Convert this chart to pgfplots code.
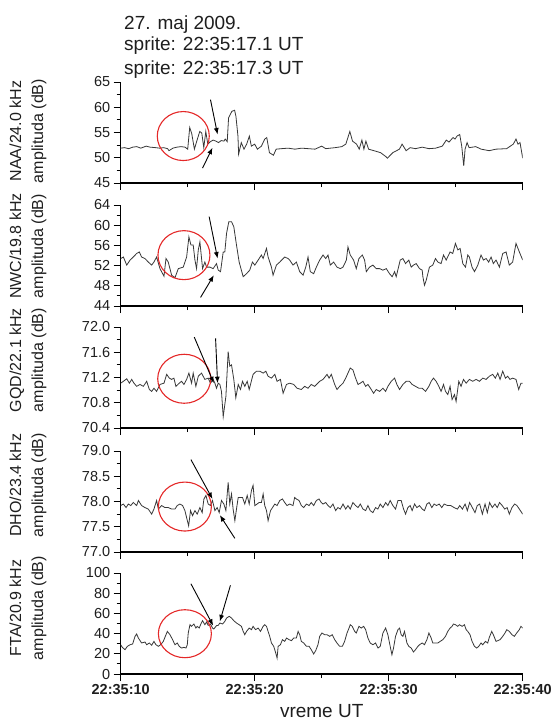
\documentclass[border=0pt]{standalone}
\usepackage{pgfplots}
\pgfplotsset{compat=1.18}
\usepackage{fontspec}
\setmainfont{Liberation Sans}
\usetikzlibrary{arrows.meta}
\definecolor{trace}{RGB}{55,55,55}
\definecolor{circ}{RGB}{228,40,40}
\definecolor{txt}{RGB}{30,30,30}
\tikzset{
  ar/.style={black, line width=0.9pt, -{Latex[length=6.5pt,width=5pt]}},
  ci/.style={circ, line width=1.1pt},
}
\pgfplotsset{
  panel/.style={
    scale only axis, width=402pt, height=101pt,
    anchor=north west,
    xmin=0, xmax=30,
    axis x line*=bottom, axis y line*=left,
    axis line style={line width=1.1pt, -, black},
    tick align=outside,
    major tick length=7pt, minor tick length=4pt,
    every tick/.style={black, line width=0.9pt},
    xtick={0,10,20,30}, minor xtick={5,15,25},
    xticklabels={},
    minor y tick num=1,
    yticklabel style={font=\fontsize{14.5}{14.5}\selectfont, text=txt},
    xticklabel style={font=\fontsize{14.5}{14.5}\bfseries, text=txt},
    /pgf/number format/assume math mode=true,
  },
  tr/.style={trace, line width=0.8pt},
}
\begin{document}
\begin{tikzpicture}[x=1pt,y=1pt]
\useasboundingbox (0,0) rectangle (553,-721);
\node[anchor=base west, font=\fontsize{19}{19}\selectfont, text=txt, inner sep=0pt] at (124,-29.3) {27. maj 2009.};
\node[anchor=base west, font=\fontsize{19}{19}\selectfont, text=txt, inner sep=0pt] at (124,-50.7) {sprite: 22:35:17.1 UT};
\node[anchor=base west, font=\fontsize{19}{19}\selectfont, text=txt, inner sep=0pt] at (124,-74) {sprite: 22:35:17.3 UT};

\node[rotate=90, align=center, font=\fontsize{16}{22}\selectfont, text=txt] at (28,-131) {NAA/24.0 kHz\\amplituda (dB)};
\node[rotate=90, align=center, font=\fontsize{16}{22}\selectfont, text=txt] at (28,-246) {NWC/19.8 kHz\\amplituda (dB)};
\node[rotate=90, align=center, font=\fontsize{16}{22}\selectfont, text=txt] at (28,-360) {GQD/22.1 kHz\\amplituda (dB)};
\node[rotate=90, align=center, font=\fontsize{16}{22}\selectfont, text=txt] at (28,-485) {DHO/23.4 kHz\\amplituda (dB)};
\node[rotate=90, align=center, font=\fontsize{16}{22}\selectfont, text=txt] at (28,-608) {FTA/20.9 kHz\\amplituda (dB)};

% ---------- NAA ----------
\begin{axis}[panel, at={(120.7pt,-82pt)}, ymin=45, ymax=65, ytick={45,50,55,60,65}]
\addplot[tr] table {
0 51.9
0.3 52.0
0.6 51.8
0.9 52.1
1.2 52.2
1.5 51.9
1.9 52.3
2.2 52.1
2.6 52.0
2.9 51.9
3.2 52.0
3.5 51.8
3.6 51.4
3.9 51.9
4.2 52.1
4.5 52.2
4.8 52.1
5.0 51.7
5.15 56.0
5.3 54.8
5.5 51.7
5.7 53.5
5.9 55.2
6.05 54.9
6.2 52.0
6.35 55.2
6.5 52.7
6.7 53.2
6.9 53.5
7.1 53.3
7.3 53.0
7.5 53.4
7.7 53.3
7.8 53.7
7.95 53.2
8.05 57.9
8.3 59.2
8.5 59.4
8.6 58.2
8.75 54.3
8.8 50.7
9.0 53.0
9.2 51.7
9.4 52.7
9.6 54.3
9.75 52.3
10.0 52.7
10.2 51.7
10.5 52.3
10.75 53.7
10.9 54.0
11.1 51.0
11.4 50.5
11.6 51.7
12.0 51.8
12.5 51.9
13.0 51.7
13.5 51.9
14.0 51.8
14.5 51.7
15.0 52.3
15.3 51.8
16.0 52.0
16.5 52.2
16.8 52.7
17.1 55.2
17.3 53.3
17.6 52.7
17.8 51.7
18.0 53.5
18.15 51.7
18.3 53.3
18.5 51.7
18.9 51.4
19.4 51.0
19.8 50.2
19.9 49.9
20.3 51.0
20.8 51.7
21.0 52.7
21.3 51.4
21.6 52.0
22.0 51.8
22.5 52.1
23.0 51.8
23.5 51.9
24.0 52.3
24.3 53.5
24.5 53.1
24.8 54.0
24.95 53.7
25.1 54.3
25.3 54.6
25.45 52.3
25.6 48.4
25.7 51.7
25.85 53.0
26.0 52.0
26.5 52.2
26.9 51.7
27.5 51.4
28.0 51.7
28.8 51.8
29.3 52.7
29.5 53.7
29.65 52.7
29.8 53.0
30.0 49.9
};
\draw[ci] (axis cs:4.67,54.3) ellipse [x radius=26pt, y radius=24.5pt];
\draw[ar] (axis cs:6.70,61.5) -- (axis cs:7.23,54.6);
\draw[ar] (axis cs:6.11,47.95) -- (axis cs:6.85,52.0);
\end{axis}

% ---------- NWC ----------
\begin{axis}[panel, at={(120.7pt,-205pt)}, ymin=44, ymax=64, ytick={44,48,52,56,60,64}]
\addplot[tr] table {
0 53.4
0.2 53.7
0.45 52.1
0.7 53.1
0.94 53.7
1.19 54.4
1.39 54.7
1.56 53.7
1.81 53.4
2.06 52.7
2.31 52.1
2.48 52.7
2.68 53.7
2.93 51.4
3.23 49.9
3.38 53.4
3.55 52.7
3.8 50.1
4.05 49.6
4.3 51.4
4.67 51.7
4.92 53.7
5.09 57.7
5.24 56.1
5.41 56.1
5.54 53.1
5.66 51.4
5.79 55.1
5.91 56.7
6.11 51.4
6.28 52.7
6.41 51.7
6.66 51.7
6.9 51.4
7.15 52.4
7.28 51.1
7.45 50.8
7.65 54.7
7.77 54.7
7.9 58.4
8.07 60.7
8.27 60.7
8.44 59.7
8.64 56.1
8.84 52.7
9.14 49.8
9.39 50.4
9.63 51.1
9.83 52.7
10.01 52.1
10.26 53.1
10.5 54.1
10.63 53.4
10.88 55.4
11.0 53.7
11.25 51.7
11.37 50.1
11.62 52.1
11.87 52.7
12.24 53.7
12.49 53.4
12.61 53.1
12.86 52.1
13.11 52.7
13.36 50.8
13.61 50.1
13.81 51.7
13.98 53.7
14.15 50.8
14.4 50.4
14.6 51.7
14.85 53.1
15.1 54.1
15.3 53.4
15.47 54.1
15.64 52.1
15.89 52.7
16.14 51.7
16.39 51.4
16.59 51.7
16.84 53.1
16.96 55.7
17.13 54.1
17.38 53.1
17.58 51.4
17.78 53.4
18.03 54.1
18.2 53.1
18.33 50.8
18.57 51.7
18.82 52.1
19.07 51.4
19.32 51.4
19.57 51.1
19.82 51.4
20.06 50.4
20.26 49.8
20.44 50.8
20.56 49.8
20.86 53.1
21.06 53.4
21.26 52.4
21.5 53.1
21.68 51.7
21.85 52.1
22.05 52.4
22.3 51.4
22.5 51.1
22.55 49.8
22.67 48.1
22.8 49.1
23.04 51.7
23.29 52.1
23.49 53.4
23.67 52.7
23.91 52.4
24.09 54.1
24.29 53.1
24.58 54.7
24.78 54.4
24.98 56.4
25.16 55.1
25.33 55.4
25.53 52.4
25.73 51.7
25.9 54.1
26.02 53.7
26.22 51.7
26.4 50.8
26.65 52.1
26.89 54.1
27.07 53.1
27.27 53.4
27.46 52.7
27.64 53.7
27.81 52.4
28.01 53.1
28.26 51.7
28.51 54.4
28.76 54.7
29.0 52.1
29.25 52.7
29.5 56.4
29.75 54.7
30 53.1
};
\draw[ci] (axis cs:4.72,54.07) ellipse [x radius=26pt, y radius=24.5pt];
\draw[ar] (axis cs:6.6,61.7) -- (axis cs:7.23,53.4);
\draw[ar] (axis cs:5.96,45.7) -- (axis cs:6.95,50.1);
\end{axis}

% ---------- GQD ----------
\begin{axis}[panel, at={(120.7pt,-327pt)}, ymin=70.4, ymax=72.0, ytick={70.4,70.8,71.2,71.6,72.0},
  yticklabel style={/pgf/number format/.cd, fixed, fixed zerofill, precision=1}]
\addplot[tr] table {
0 71.11
0.2 71.14
0.45 71.18
0.65 71.11
0.82 71.17
0.99 71.11
1.19 71.06
1.44 71.09
1.69 71.06
1.94 71.14
2.14 71.01
2.31 70.98
2.48 71.03
2.68 70.98
2.93 71.09
3.23 71.11
3.43 71.25
3.63 71.19
3.8 71.17
3.97 71.19
4.12 71.06
4.37 71.11
4.54 71.14
4.72 71.09
4.92 71.17
5.09 71.27
5.29 71.11
5.41 71.27
5.61 71.06
5.79 71.22
6.03 71.27
6.28 71.17
6.53 71.19
6.7 71.11
6.9 71.17
7.03 71.11
7.15 71.03
7.28 71.11
7.4 71.09
7.52 70.98
7.65 70.58
7.85 70.90
8.02 71.61
8.14 71.38
8.27 71.40
8.44 71.17
8.59 70.88
8.77 71.09
8.94 71.01
9.09 71.14
9.26 71.06
9.44 71.14
9.59 71.01
9.88 71.25
10.13 71.30
10.38 71.30
10.63 71.27
10.83 71.30
11.0 71.22
11.25 71.19
11.5 71.25
11.67 71.14
11.92 71.17
12.12 70.95
12.37 71.09
12.61 71.11
12.91 71.09
13.16 71.03
13.48 71.01
13.73 71.06
13.98 71.03
14.22 71.09
14.47 71.06
14.85 71.14
15.1 71.17
15.4 71.25
15.55 71.19
15.72 71.25
15.97 71.09
16.14 71.01
16.34 71.06
16.59 71.11
16.79 71.19
16.96 71.27
17.13 71.35
17.33 71.32
17.53 71.19
17.71 71.09
17.88 71.11
18.08 71.14
18.28 71.06
18.45 71.09
18.7 71.01
18.87 70.95
19.07 71.01
19.32 70.98
19.57 71.03
19.77 70.98
19.94 71.06
20.19 71.14
20.44 71.19
20.61 71.09
20.81 71.01
21.06 71.09
21.31 71.14
21.55 71.14
21.75 71.09
22.0 71.06
22.25 71.03
22.5 71.03
22.75 70.98
23.0 71.06
23.17 71.14
23.34 71.19
23.54 71.14
23.74 71.06
23.91 70.98
24.09 71.09
24.24 70.98
24.41 70.93
24.58 71.06
24.73 70.85
24.91 70.93
25.03 70.82
25.23 71.14
25.4 71.06
25.58 71.17
25.78 71.11
26.02 71.17
26.27 71.14
26.52 71.17
26.77 71.14
27.02 71.19
27.27 71.17
27.51 71.22
27.76 71.25
27.96 71.19
28.14 71.27
28.31 71.17
28.51 71.30
28.71 71.19
28.88 71.22
29.05 71.17
29.25 71.19
29.5 71.17
29.7 71.01
29.87 71.11
30 71.11
};
\draw[ci] (axis cs:4.74,71.18) ellipse [x radius=26.5pt, y radius=24.5pt];
\draw[ar] (axis cs:5.49,71.84) -- (axis cs:6.95,71.11);
\draw[ar] (axis cs:7.08,71.82) -- (axis cs:7.23,71.11);
\end{axis}

% ---------- DHO ----------
\begin{axis}[panel, at={(120.7pt,-451pt)}, ymin=77.0, ymax=79.0, ytick={77.0,77.5,78.0,78.5,79.0},
  yticklabel style={/pgf/number format/.cd, fixed, fixed zerofill, precision=1}]
\addplot[tr] table {
0 77.92
0.2 77.95
0.4 77.88
0.57 77.95
0.75 77.92
0.94 77.98
1.19 77.92
1.32 78.02
1.56 77.92
1.81 77.88
2.06 77.85
2.31 77.75
2.48 77.85
2.68 78.02
2.81 77.85
3.05 77.92
3.3 77.88
3.55 77.88
3.8 77.85
4.05 77.85
4.22 77.92
4.42 77.95
4.62 77.92
4.79 77.82
4.92 77.68
5.07 77.52
5.21 77.82
5.36 77.72
5.54 77.82
5.71 77.75
5.91 77.88
6.08 77.78
6.21 78.05
6.36 78.12
6.53 77.95
6.7 77.92
6.85 78.02
7.03 77.82
7.2 77.88
7.35 77.78
7.52 78.02
7.7 77.95
7.85 77.82
8.02 78.38
8.14 77.95
8.27 78.15
8.39 77.85
8.52 77.62
8.64 77.85
8.77 78.08
8.89 78.08
9.09 78.08
9.26 77.95
9.44 78.12
9.59 77.95
9.76 78.22
9.88 78.32
10.01 77.92
10.18 77.95
10.33 77.98
10.5 77.98
10.63 78.15
10.75 77.92
10.88 77.82
11.0 77.62
11.18 77.82
11.33 77.88
11.5 77.95
11.67 77.92
11.87 78.02
12.07 78.05
12.24 77.98
12.41 77.92
12.61 77.95
12.86 77.92
12.98 78.08
13.11 78.05
13.31 78.02
13.48 77.92
13.66 77.88
13.86 77.95
14.06 77.92
14.22 77.98
14.4 77.92
14.6 78.02
14.8 78.05
14.97 77.98
15.1 77.95
15.3 77.98
15.47 77.92
15.64 77.88
15.84 77.95
16.04 77.82
16.21 77.88
16.39 77.85
16.59 77.95
16.79 77.85
16.96 77.92
17.13 77.85
17.33 77.98
17.53 77.92
17.71 77.88
17.88 77.95
18.08 77.85
18.28 77.82
18.45 77.92
18.62 77.82
18.82 77.78
19.02 77.88
19.19 77.85
19.37 77.95
19.57 77.88
19.77 77.98
19.94 77.92
20.11 78.02
20.31 77.92
20.51 77.85
20.69 78.02
20.93 78.02
21.11 77.85
21.26 77.75
21.43 77.88
21.6 77.92
21.75 77.82
21.93 77.95
22.1 77.88
22.3 77.92
22.5 77.85
22.67 77.82
22.85 77.95
23.02 77.98
23.22 77.88
23.39 77.95
23.57 77.92
23.77 77.95
23.96 77.88
24.14 77.95
24.39 77.92
24.63 77.92
24.88 77.88
25.13 77.85
25.3 77.92
25.5 77.85
25.7 77.95
25.87 77.82
26.04 77.98
26.24 77.88
26.44 77.78
26.61 77.92
26.79 77.95
26.99 77.75
27.19 77.95
27.36 77.78
27.53 77.98
27.73 77.88
27.93 77.95
28.1 77.88
28.27 77.98
28.47 77.92
28.66 77.85
28.84 77.88
29.0 77.75
29.2 77.88
29.4 77.95
29.57 77.92
29.75 77.85
30 77.75
};
\draw[ci] (axis cs:4.79,77.90) ellipse [x radius=26.5pt, y radius=24.5pt];
\draw[ar] (axis cs:5.24,78.83) -- (axis cs:6.85,78.05);
\draw[ar] (axis cs:8.52,77.27) -- (axis cs:7.4,77.73);
\end{axis}

% ---------- FTA ----------
\begin{axis}[panel, at={(120.7pt,-573pt)}, ymin=0, ymax=100, ytick={0,20,40,60,80,100},
  xticklabels={22:35:10,22:35:20,22:35:30,22:35:40}]
\addplot[tr] table {
0 29.0
0.12 26.4
0.32 24.1
0.5 27.4
0.7 29.0
0.89 29.7
1.07 37.3
1.19 39.6
1.32 35.6
1.56 30.7
1.81 31.7
1.94 29.0
2.14 30.7
2.31 28.4
2.48 32.3
2.63 29.0
2.81 27.4
2.98 29.0
3.18 32.3
3.38 38.9
3.48 42.2
3.68 38.9
3.87 34.0
4.05 29.0
4.22 30.7
4.37 27.4
4.54 25.7
4.72 26.4
4.87 25.7
4.97 29.0
5.04 40.6
5.17 48.8
5.29 47.2
5.46 49.5
5.61 45.5
5.71 47.2
5.86 45.5
5.98 49.5
6.11 52.8
6.28 48.8
6.41 51.5
6.53 48.2
6.7 49.5
6.85 45.5
6.95 44.6
7.15 47.9
7.28 48.2
7.4 50.5
7.6 49.5
7.77 52.1
7.9 55.4
8.1 57.1
8.27 55.4
8.44 52.8
8.64 50.5
8.84 48.8
9.01 47.2
9.14 42.2
9.26 38.9
9.39 42.2
9.59 45.5
9.76 43.9
9.88 47.2
10.06 43.9
10.26 45.5
10.43 42.2
10.63 47.2
10.75 48.8
10.88 47.2
11.0 42.2
11.12 37.3
11.25 30.7
11.42 27.4
11.57 20.8
11.67 15.8
11.75 27.4
11.92 29.0
12.07 34.0
12.24 32.3
12.37 35.6
12.57 34.0
12.74 33.0
12.91 35.6
13.11 35.6
13.24 42.2
13.36 38.9
13.48 32.3
13.66 30.7
13.86 27.4
14.06 27.4
14.22 24.1
14.4 19.8
14.55 23.1
14.72 29.0
14.85 37.3
15.02 40.6
15.22 38.9
15.4 38.9
15.6 37.3
15.79 38.9
15.97 34.0
16.14 30.7
16.34 27.4
16.54 27.4
16.71 32.3
16.89 40.6
17.04 45.5
17.13 48.8
17.28 47.2
17.46 42.2
17.58 40.6
17.78 47.2
17.95 45.5
18.13 47.2
18.28 43.9
18.45 35.6
18.62 30.7
18.82 29.0
19.02 30.7
19.2 25.7
19.37 27.4
19.57 40.6
19.77 45.5
19.94 38.9
20.11 27.4
20.24 19.1
20.36 25.7
20.51 37.3
20.69 43.9
20.81 45.5
20.93 38.9
21.06 37.3
21.18 42.2
21.36 30.7
21.5 27.4
21.68 25.7
21.85 21.8
22.0 24.1
22.18 27.4
22.3 29.0
22.5 30.7
22.67 29.0
22.85 34.0
23.0 40.6
23.17 35.6
23.29 30.7
23.49 30.7
23.67 30.7
23.84 32.3
24.04 34.0
24.24 37.3
24.41 42.2
24.58 45.5
24.73 47.2
24.83 49.5
24.98 48.8
25.16 47.2
25.28 48.8
25.48 47.2
25.65 48.8
25.78 43.9
25.9 42.2
26.07 38.9
26.22 32.3
26.4 27.4
26.57 25.7
26.72 27.4
26.89 30.7
27.02 29.0
27.22 32.3
27.39 30.7
27.51 36.3
27.69 42.2
27.81 38.9
28.01 32.3
28.14 33.0
28.31 34.0
28.51 37.3
28.68 40.6
28.81 43.9
29.0 42.2
29.2 38.9
29.38 37.3
29.55 40.6
29.75 43.9
29.87 47.2
30 45.5
};
\draw[ci] (axis cs:4.79,39.9) ellipse [x radius=26.5pt, y radius=24pt];
\draw[ar] (axis cs:5.24,89.4) -- (axis cs:6.9,47.9);
\draw[ar] (axis cs:8.19,87.8) -- (axis cs:7.4,52.1);
\end{axis}

\node[anchor=base, font=\fontsize{19}{19}\selectfont, text=txt, inner sep=0pt] at (321.7,-717) {vreme UT};
\end{tikzpicture}
\end{document}
